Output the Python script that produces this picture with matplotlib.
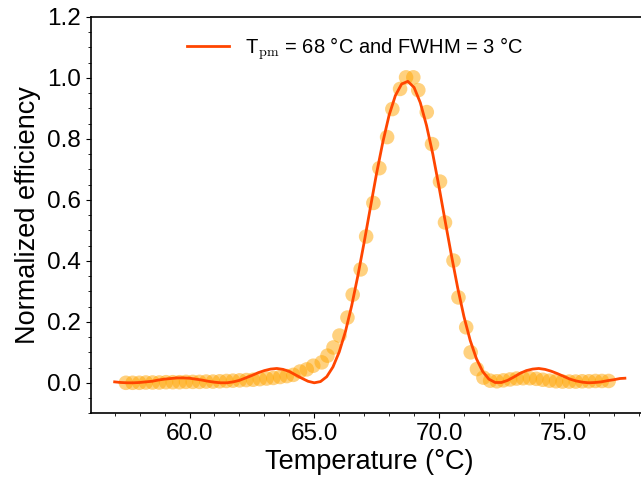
import matplotlib
matplotlib.use("Agg")
import matplotlib.pyplot as plt
from matplotlib.ticker import MultipleLocator, FormatStrFormatter

plt.rcParams['font.family'] = ['Liberation Sans', 'DejaVu Sans']
plt.rcParams['mathtext.fontset'] = 'cm'

# measured points (temperature, normalized efficiency)
temp_meas = [57.45, 57.72, 57.99, 58.25, 58.52, 58.79, 59.06, 59.33, 59.60, 59.86,
             60.13, 60.40, 60.67, 60.94, 61.21, 61.48, 61.74, 62.01, 62.28, 62.55,
             62.82, 63.09, 63.36, 63.63, 63.90,
             64.16, 64.43, 64.70, 64.96, 65.30, 65.53, 65.77, 66.01, 66.33, 66.54,
             66.86, 67.08, 67.37, 67.61, 67.92, 68.13, 68.44, 68.68, 68.97, 69.17,
             69.51, 69.72, 70.04, 70.24, 70.58, 70.78, 71.09, 71.27, 71.52, 71.78,
             72.05, 72.32, 72.58, 72.85, 73.11, 73.37, 73.64, 73.90, 74.16, 74.43,
             74.69, 74.95, 75.22, 75.48, 75.74, 76.01, 76.27, 76.53, 76.80]
eff_meas = [0.000, 0.000, 0.000, 0.001, 0.001, 0.001, 0.002, 0.002, 0.002, 0.003,
            0.003, 0.003, 0.004, 0.004, 0.005, 0.006, 0.007, 0.008, 0.009, 0.010,
            0.012, 0.014, 0.016, 0.019, 0.022,
            0.026, 0.037, 0.044, 0.056, 0.067, 0.089, 0.116, 0.155, 0.214, 0.289,
            0.372, 0.480, 0.590, 0.704, 0.806, 0.898, 0.964, 1.002, 1.002, 0.960,
            0.888, 0.783, 0.660, 0.526, 0.401, 0.280, 0.182, 0.100, 0.045, 0.017,
            0.007, 0.005, 0.008, 0.011, 0.014, 0.015, 0.015, 0.013, 0.010, 0.007,
            0.005, 0.004, 0.004, 0.004, 0.005, 0.005, 0.006, 0.006, 0.006]

# fitted curve
temp_fit = [57.00, 57.25, 57.50, 57.75, 58.00, 58.25, 58.50, 58.75, 59.00, 59.25,
            59.50, 59.75, 60.00, 60.25, 60.50, 60.75, 61.00, 61.25, 61.50, 61.75,
            62.00, 62.25, 62.50, 62.75, 63.00, 63.25, 63.50, 63.75, 64.00, 64.25,
            64.50, 64.75, 65.00, 65.25, 65.50, 65.75, 66.00, 66.25, 66.50, 66.75,
            67.00, 67.25, 67.50, 67.75, 68.00, 68.25, 68.50, 68.75, 69.00, 69.25,
            69.50, 69.75, 70.00, 70.25, 70.50, 70.75, 71.00, 71.25, 71.50, 71.75,
            72.00, 72.25, 72.50, 72.75, 73.00, 73.25, 73.50, 73.75, 74.00, 74.25,
            74.50, 74.75, 75.00, 75.25, 75.50, 75.75, 76.00, 76.25, 76.50, 76.75,
            77.00, 77.25, 77.45]
eff_fit = [0.003, 0.001, 0.000, 0.000, 0.001, 0.003, 0.005, 0.009, 0.012, 0.014,
           0.016, 0.016, 0.015, 0.012, 0.009, 0.005, 0.002, 0.000, 0.000, 0.003,
           0.008, 0.016, 0.024, 0.033, 0.040, 0.045, 0.047, 0.044, 0.037, 0.026,
           0.015, 0.005, 0.000, 0.004, 0.020, 0.052, 0.101, 0.168, 0.253, 0.352,
           0.461, 0.575, 0.688, 0.790, 0.878, 0.942, 0.980, 0.989, 0.969, 0.919,
           0.844, 0.751, 0.643, 0.529, 0.417, 0.311, 0.217, 0.139, 0.079, 0.037,
           0.012, 0.001, 0.001, 0.008, 0.019, 0.031, 0.040, 0.045, 0.047, 0.044,
           0.038, 0.030, 0.021, 0.012, 0.006, 0.002, 0.000, 0.001, 0.003, 0.007,
           0.010, 0.014, 0.015]

fig = plt.figure(figsize=(6.41, 4.8), dpi=100)
ax = fig.add_axes([0.1415, 0.139, 0.868, 0.8256])

ax.scatter(temp_meas, eff_meas, s=110, color='orange', alpha=0.5, edgecolors='none')
ax.plot(temp_fit, eff_fit, color='orangered', lw=2,
        label=r'T$_{\rm pm}$ = 68 °C and FWHM = 3 °C')

ax.set_xlim(56.04, 78.34)
ax.set_ylim(-0.1, 1.2)
ax.xaxis.set_major_locator(MultipleLocator(5))
ax.xaxis.set_minor_locator(MultipleLocator(1))
ax.yaxis.set_major_locator(MultipleLocator(0.2))
ax.yaxis.set_minor_locator(MultipleLocator(0.05))
ax.xaxis.set_major_formatter(FormatStrFormatter('%.1f'))
ax.yaxis.set_major_formatter(FormatStrFormatter('%.1f'))
ax.tick_params(labelsize=17.5)
for s in ax.spines.values():
    s.set_linewidth(1.2)

ax.set_xlabel('Temperature (°C)', fontsize=19.5, labelpad=3)
ax.set_ylabel('Normalized efficiency', fontsize=19.5, labelpad=4)
ax.legend(loc='upper center', bbox_to_anchor=(0.475, 1.0), frameon=False,
          fontsize=14.5, handlelength=2.1)

fig.savefig('out.png', dpi=100)
